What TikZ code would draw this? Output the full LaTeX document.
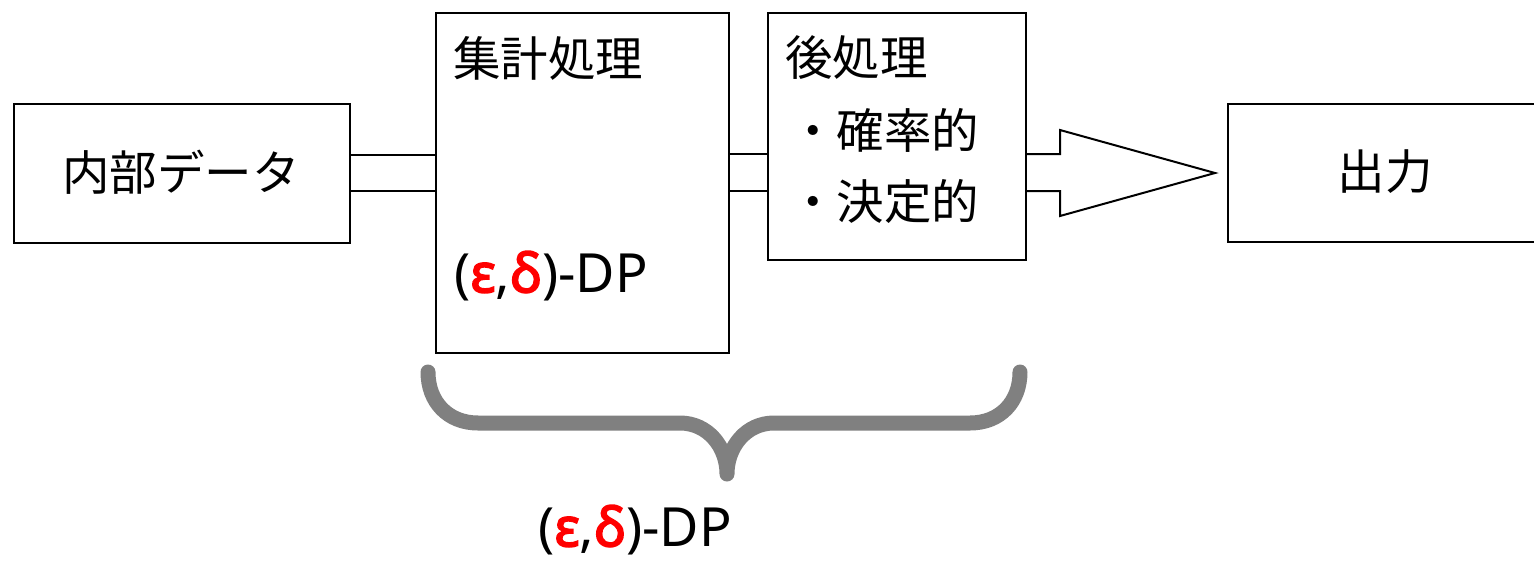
\documentclass[tikz,border=0pt]{standalone}
\usepackage{fontspec}
\setmainfont{Noto Sans CJK JP}
\newfontfamily\latinf{Noto Sans}
\newfontfamily\latinbf{Noto Sans}[FakeBold=3]
\definecolor{dpred}{RGB}{255,0,0}
\definecolor{bracegray}{RGB}{128,128,128}
\newcommand{\epsdelta}{{\fontsize{54}{58}\selectfont\latinf(\textcolor{dpred}{\latinbf ε},\textcolor{dpred}{\latinbf δ})-DP}}
\tikzset{
  boxnode/.style={draw=black, line width=2pt, anchor=north west, inner sep=0pt},
  lbl/.style={font=\fontsize{47.5}{50}\selectfont, inner sep=0pt},
  conn/.style={draw=black, line width=2pt},
}
\begin{document}
\begin{tikzpicture}[x=1pt,y=-1pt]
\useasboundingbox (0,0) rectangle (1534,560);
% boxes
\node[boxnode, minimum width=336pt, minimum height=139pt] (inner) at (13,103) {};
\node[boxnode, minimum width=293pt, minimum height=340pt] (agg) at (435,12) {};
\node[boxnode, minimum width=258pt, minimum height=247pt] (post) at (767,12) {};
\node[boxnode, minimum width=320pt, minimum height=138pt] (out) at (1227,103) {};
% texts
\node[lbl] (tinner) at (181,172) {内部データ};
\node[lbl] (tout) at (1385,172) {出力};
\node[lbl, anchor=west] (tagg) at (453,58) {集計処理};
\node[lbl, anchor=west] (tpost) at (785,58) {後処理};
\node[lbl, anchor=west] (tp1) at (789,130) {・確率的};
\node[lbl, anchor=west] (tp2) at (789,201) {・決定的};
\node[lbl, anchor=west] (tdp1) at (454,276) {\epsdelta};
% double connectors
\coordinate (c1a) at (349,155); \coordinate (c1b) at (435,155);
\coordinate (c2a) at (349,191); \coordinate (c2b) at (435,191);
\draw[conn] (inner.east |- c1a) -- (agg.west |- c1b);
\draw[conn] (inner.east |- c2a) -- (agg.west |- c2b);
\coordinate (d1) at (728,154); \coordinate (d2) at (728,191);
\draw[conn] (agg.east |- d1) -- (post.west |- d1);
\draw[conn] (agg.east |- d2) -- (post.west |- d2);
% block arrow
\coordinate (a1) at (1025,154);
\coordinate (a2) at (1025,191);
\coordinate (tip) at (1215,173);
\draw[conn, line join=miter] (post.east |- a1) -- (1060,154) -- (1060,130) -- (tip) -- (1060,216) -- (1060,191) -- (post.east |- a2);
% brace
\coordinate (bl) at (428,372);
\coordinate (br) at (1020,372);
\coordinate (bt) at (727,474);
\draw[bracegray, line width=15pt, line cap=round, line join=round]
  (bl) .. controls (428,402) and (448,423) .. (478,423) -- (680,423)
  .. controls (708,423) and (727,447) .. (bt)
  .. controls (727,447) and (746,423) .. (774,423) -- (970,423)
  .. controls (1000,423) and (1020,402) .. (br);
\node[lbl] (tdp2) at (635,530) {\epsdelta};
\end{tikzpicture}
\end{document}
